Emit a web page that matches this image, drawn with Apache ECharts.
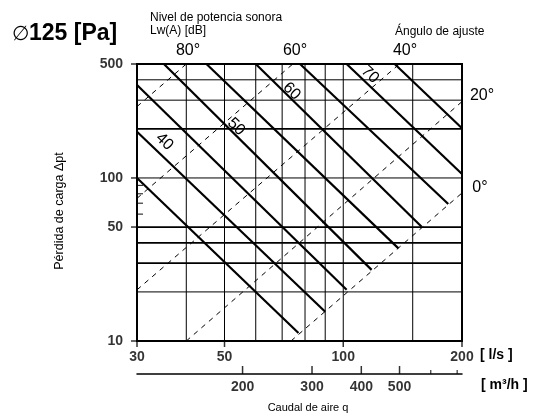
<!DOCTYPE html>
<html><head><meta charset="utf-8">
<script src="https://cdn.jsdelivr.net/npm/echarts@6/dist/echarts.min.js"></script>
<style>html,body{margin:0;padding:0;background:#fff}#c{width:538px;height:419px}</style>
</head><body><div id="c"></div>
<script>
const FONT = '"Liberation Sans", Arial, Helvetica, sans-serif';

// ---- axis / grid values ----
const qGrid = [40, 50, 60, 70, 80, 90, 100, 150];
const pGridThin = [20, 100, 300, 400];
const pGridThick = [30, 40, 50, 200];
const qTickLabels = [30, 50, 100, 200];
const pTickLabels = [10, 50, 100, 500];
const pMinorTicks = [60, 70, 80, 90];
const m3hLabels = [200, 300, 400, 500];
const m3hMinor = [600, 700];

// ---- sound power level lines Lw(A) (solid), endpoints [q l/s, dp Pa] ----
const lw35 = [[30, 100], [77, 11.2]];
const lw40 = [[30, 192], [90, 15.1]];
const lw45 = [[30, 372], [102, 20.6]];
const lw50 = [[35.1, 500], [118, 27.3]];
const lw55 = [[45, 500], [138, 37.0]];
const lw60 = [[60, 500], [158, 50.2]];
const lw65 = [[77.7, 500], [184.6, 69.3]];
const lw70 = [[102, 500], [200, 105.8]];
const lw75 = [[135, 500], [200, 201.8]];

// ---- damper angle lines (dashed) ----
const ang80 = [[30, 274], [40, 500]];
const ang60 = [[30, 75], [74.5, 500]];
const ang40 = [[30, 20.6], [138.8, 500]];
const ang20 = [[40, 10], [200, 294]];
const ang0 = [[73.7, 10], [200, 80.9]];

// ---- dB labels on the chart ----
const dbText = ['40', '50', '60', '70'];
const dbQ = [35.2, 53.5, 74, 116.9];
const dbP = [167, 206, 340, 430];

const C = '#000';
function ln(data, width, type) {
  return { type: 'line', data, symbol: 'none', silent: true, animation: false, clip: false,
    lineStyle: { color: C, width, type: type || 'solid' }, z: 3 };
}
const series = [];
qGrid.forEach(q => series.push(ln([[q, 10], [q, 500]], 1)));
pGridThin.forEach(p => series.push(ln([[30, p], [200, p]], 1)));
pGridThick.forEach(p => series.push(ln([[30, p], [200, p]], 1.8)));
[lw35, lw40, lw45, lw50, lw55, lw60, lw65, lw70, lw75].forEach(d => series.push(ln(d, 2.2)));
[ang80, ang60, ang40, ang20, ang0].forEach(d => series.push(ln(d, 1, [5, 5])));

// y ticks + labels
series.push({ type: 'scatter', silent: true, animation: false, clip: false, z: 5,
  data: pTickLabels.map(p => [30, p]), symbol: 'rect', symbolSize: [6, 1.5], symbolOffset: [-3, 0],
  itemStyle: { color: C },
  label: { show: true, position: 'left', distance: 8, color: C, fontFamily: FONT, fontWeight: 'bold', fontSize: 14,
    formatter: p => String(p.value[1]) } });
series.push({ type: 'scatter', silent: true, animation: false, clip: false, z: 5,
  data: pMinorTicks.map(p => [30, p]), symbol: 'rect', symbolSize: [6, 1.2], symbolOffset: [3, 0],
  itemStyle: { color: C } });
// x ticks + labels
series.push({ type: 'scatter', silent: true, animation: false, clip: false, z: 5,
  data: qTickLabels.map(q => [q, 10]), symbol: 'rect', symbolSize: [1.5, 6], symbolOffset: [0, 3],
  itemStyle: { color: C },
  label: { show: true, position: 'bottom', distance: 3, color: C, fontFamily: FONT, fontWeight: 'bold', fontSize: 14,
    formatter: p => String(p.value[0]) } });
// dB labels
series.push({ type: 'scatter', silent: true, animation: false, clip: false, z: 6,
  data: dbText.map((t, i) => ({ value: [dbQ[i], dbP[i]], name: t })), symbol: 'circle', symbolSize: 4,
  itemStyle: { color: 'rgba(255,255,255,0)' },
  label: { show: true, position: 'inside', rotate: -44, color: '#000', fontFamily: FONT, fontSize: 16,
    textBorderWidth: 0, textBorderColor: 'transparent', opacity: 1,
    formatter: p => p.name } });
// m3/h secondary axis
series.push({ type: 'scatter', xAxisIndex: 1, yAxisIndex: 1, silent: true, animation: false, clip: false, z: 5,
  data: m3hLabels.map(v => ({ value: [v / 3.6, 0], name: String(v) })), symbol: 'rect', symbolSize: [1.5, 8], symbolOffset: [0, -4],
  itemStyle: { color: C },
  label: { show: true, position: 'bottom', distance: 6, color: C, fontFamily: FONT, fontWeight: 'bold', fontSize: 14,
    formatter: p => p.name } });
series.push({ type: 'scatter', xAxisIndex: 1, yAxisIndex: 1, silent: true, animation: false, clip: false, z: 5,
  data: m3hMinor.map(v => [v / 3.6, 0]), symbol: 'rect', symbolSize: [1.2, 4], symbolOffset: [0, -2],
  itemStyle: { color: C } });

function txt(text, x, y, font, align, valign, extra) {
  return Object.assign({ type: 'text', x, y, silent: true,
    style: { text, font, fill: C, textAlign: align || 'left', textVerticalAlign: valign || 'middle' } }, extra || {});
}
const F = (s, b) => (b ? 'bold ' : '') + s + 'px ' + FONT;

const chart = echarts.init(document.getElementById('c'), null, { renderer: 'canvas' });
chart.setOption({
  animation: false,
  backgroundColor: '#fff',
  grid: [
    { left: 137, top: 64, width: 325, height: 277, show: true, borderColor: C, borderWidth: 2, backgroundColor: 'transparent' },
    { left: 137, top: 373, width: 325, height: 1, show: false }
  ],
  xAxis: [
    { type: 'log', logBase: 10, min: 30, max: 200, gridIndex: 0,
      axisLine: { show: false }, axisTick: { show: false }, axisLabel: { show: false }, splitLine: { show: false }, minorSplitLine: { show: false } },
    { type: 'log', logBase: 10, min: 30, max: 200, gridIndex: 1,
      axisLine: { show: true, onZero: false, lineStyle: { color: C, width: 1.5 } }, axisTick: { show: false }, axisLabel: { show: false }, splitLine: { show: false } }
  ],
  yAxis: [
    { type: 'log', logBase: 10, min: 10, max: 500, gridIndex: 0,
      axisLine: { show: false }, axisTick: { show: false }, axisLabel: { show: false }, splitLine: { show: false } },
    { type: 'value', min: 0, max: 1, gridIndex: 1, show: false }
  ],
  series,
  graphic: [
    { type: 'text', x: 12, y: 34, silent: true, style: { text: '{a|∅}{b|125 [Pa]}', textVerticalAlign: 'middle',
      rich: { a: { font: F(20), fill: C }, b: { font: F(23, true), fill: C } } } },
    txt('Nivel de potencia sonora', 150, 18, F(12)),
    txt('Lw(A) [dB]', 150, 31, F(12)),
    txt('Ángulo de ajuste', 395, 32, F(12)),
    txt('80°', 188, 51, F(16), 'center'),
    txt('60°', 295, 51, F(16), 'center'),
    txt('40°', 405, 51, F(16), 'center'),
    txt('20°', 482, 96, F(16), 'center'),
    txt('0°', 480, 188, F(16), 'center'),
    txt('[ l/s ]', 480, 355, F(14, true)),
    txt('[ m³/h ]', 481, 385, F(14, true)),
    txt('Caudal de aire q', 308, 408, F(11), 'center'),
    txt('Pérdida de carga Δpt', 60, 211, F(12.5), 'center', 'middle', { rotation: Math.PI / 2 })
  ]
});
</script></body></html>
